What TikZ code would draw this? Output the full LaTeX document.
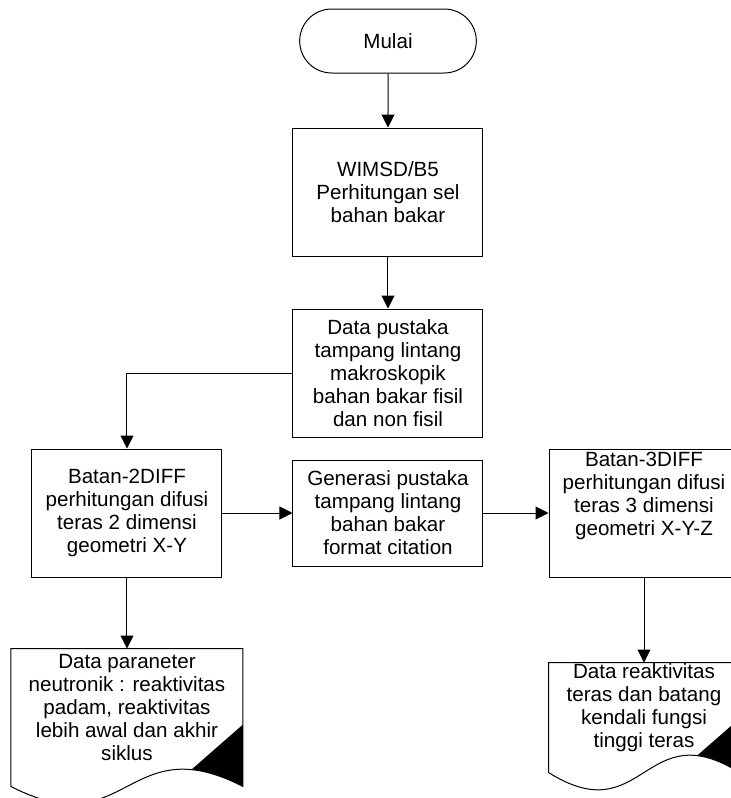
\documentclass[tikz,border=0pt]{standalone}
\usepackage{fontspec}
\setmainfont{Liberation Sans}
\usetikzlibrary{positioning,shapes.misc,arrows.meta}

% document shape: #1 node, #2 wave, #3 height of the black corner
\newcommand{\docshape}[3]{%
  \begin{scope}
    \clip (#1.north west) -- (#1.north east) -- (#1.south east)
      .. controls ([yshift=#2]#1.south) and ([yshift=-#2]#1.south) .. (#1.south west) -- cycle;
    \fill ([yshift=#3]#1.south east) -- ++(-40pt,-35pt) -- ++(45pt,0pt) -- cycle;
  \end{scope}
  \draw (#1.north west) -- (#1.north east) -- (#1.south east)
    .. controls ([yshift=#2]#1.south) and ([yshift=-#2]#1.south) .. (#1.south west) -- cycle;}

\begin{document}
\begin{tikzpicture}[%
  >={Triangle[length=6.5pt,width=6.5pt]},
  font=\fontsize{10.3pt}{11.5pt}\selectfont,
  line width=0.5pt,
  node distance=27pt,
  kotak/.style={
    draw,
    rectangle,
    align=center,
    minimum width=95pt,
    minimum height=64pt,
    inner sep=2pt,},
  terminal/.style={
    draw,
    rounded rectangle,
    minimum width=95pt,
    minimum height=32pt,},
  dokumen/.style={
    rectangle,
    align=center,
    inner xsep=2pt,
    inner ysep=0pt,}
  ]
  \useasboundingbox (-194pt,20.5pt) rectangle (171pt,-378.5pt);
  %% Nodes
  \node[terminal] (mulai) {Mulai};
  \node[kotak, below = 27pt of mulai] (wims) {WIMSD/B5\\Perhitungan sel\\bahan bakar};
  \node[kotak, below = 26pt of wims] (data) {Data pustaka\\tampang lintang\\makroskopik\\bahan bakar fisil\\dan non fisil};
  \node[kotak, below left = 5.5pt and 35pt of data] (bt2) {Batan-2DIFF\\perhitungan difusi\\teras 2 dimensi\\geometri X-Y};
  \node[kotak, minimum height=53pt, right = 35pt of bt2] (gen) {Generasi pustaka\\tampang lintang\\bahan bakar\\format citation};
  \node[kotak, inner ysep=0.5pt, text depth=19pt, right = 32.5pt of gen] (bt3) {Batan-3DIFF\\perhitungan difusi\\teras 3 dimensi\\geometri X-Y-Z};
  \node[dokumen, minimum width=115.5pt, minimum height=68.5pt, text depth=9.7pt, below = 35.5pt of bt2] (hasil2) {Data paraneter\\neutronik : reaktivitas\\padam, reaktivitas\\lebih awal dan akhir\\siklus};
  \node[dokumen, minimum width=95pt, minimum height=54.5pt, text depth=12pt, below = 42.5pt of bt3] (hasil3) {Data reaktivitas\\teras dan batang\\kendali fungsi\\tinggi teras};
  \docshape{hasil2}{30pt}{31pt}
  \docshape{hasil3}{30pt}{27pt}
  %% Edges
  \draw[->] (mulai) -- (wims);
  \draw[->] (wims) -- (data);
  \draw[->] (data.west) -| (bt2.north);
  \draw[->] (bt2) -- (gen);
  \draw[->] (gen) -- (bt3);
  \draw[->] (bt2) -- (hasil2);
  \draw[->] (bt3) -- (hasil3);
\end{tikzpicture}
\end{document}
